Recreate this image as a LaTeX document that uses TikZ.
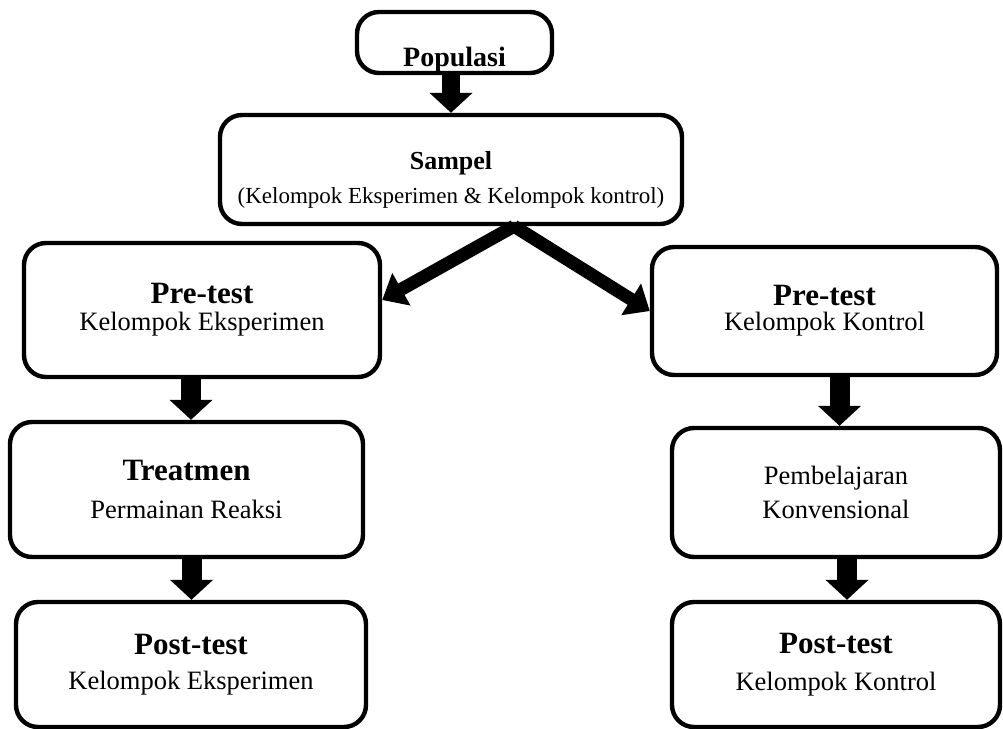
\documentclass[tikz,border=0pt]{standalone}
\usepackage{fontspec}
\setmainfont{Liberation Serif}
\usetikzlibrary{arrows.meta}

\begin{document}
\begin{tikzpicture}[x=0.5pt,y=-0.5pt,
        kotak/.style={draw, line width=2.2pt, rounded corners=11pt, align=center,
                inner sep=2pt, font=\fontsize{13.25}{15}\selectfont},
        panah/.style={line width=10pt, -{Triangle[width=21pt,length=10pt]}},
        panahmiring/.style={line width=6.5pt, -{Triangle[width=18pt,length=11pt]}}]

        % ===============================
        % Ukuran halaman (piksel acuan)
        % ===============================
        \useasboundingbox (0,0) rectangle (1003,729);

        % Judul tebal di dalam kotak
        \providecommand{\Judul}[1]{%
            {\fontsize{15.5}{15}\selectfont\bfseries #1}%
        }

        % ===============================
        % Populasi dan sampel
        % ===============================
        \node[kotak, minimum width=97.5pt, minimum height=30.5pt, inner sep=0pt,
            text height=24pt, text depth=0pt] (pop) at (454.5,42.5)
            {\fontsize{14}{15}\selectfont\bfseries Populasi};
        \node[kotak, minimum width=231pt, minimum height=54.5pt,
            font=\fontsize{11.5}{15}\selectfont] (samp) at (451,169.5)
            {\rule{0pt}{19.5pt}{\fontsize{13}{15}\selectfont\bfseries Sampel}\\[2pt]
             (Kelompok Eksperimen \& Kelompok kontrol)};

        % ===============================
        % Kelompok eksperimen (kiri)
        % ===============================
        \node[kotak, minimum width=178pt, minimum height=67pt] (preE) at (202,310)
            {\Judul{Pre-test}\\[-1.5pt] Kelompok Eksperimen};
        \node[kotak, minimum width=176.5pt, minimum height=67.5pt] (treat) at (186.5,489.5)
            {\Judul{Treatmen}\\[4pt] Permainan Reaksi};
        \node[kotak, minimum width=175pt, minimum height=62.5pt] (postE) at (191,664.5)
            {\Judul{Post-test}\\[2.5pt] Kelompok Eksperimen};

        % ===============================
        % Kelompok kontrol (kanan)
        % ===============================
        \node[kotak, minimum width=172.5pt, minimum height=64pt] (preK) at (824.5,311)
            {\Judul{Pre-test}\\[-2.5pt] Kelompok Kontrol};
        \node[kotak, minimum width=164pt, minimum height=64.5pt] (konv) at (836,492.5)
            {Pembelajaran\\[2pt] Konvensional};
        \node[kotak, minimum width=164pt, minimum height=62.5pt] (postK) at (836,664.5)
            {\Judul{Post-test}\\[3.5pt] Kelompok Kontrol};

        % ===============================
        % Panah alur
        % ===============================
        \draw[panah, line width=9pt] (pop.south -| samp.north) -- (samp.north);

        \coordinate (pisah) at ([xshift=31.5pt]samp.south);
        \draw[panahmiring] (pisah) -- ([yshift=5pt]preE.east);
        \draw[panahmiring] (pisah) -- (preK.west);

        \draw[panah] ([xshift=-5.5pt]preE.south) -- ([xshift=-5.5pt]preE.south |- treat.north);
        \draw[panah] ([xshift=2.5pt]treat.south) -- ([xshift=2.5pt]treat.south |- postE.north);
        \draw[panah] ([xshift=7.5pt]preK.south) -- ([xshift=7.5pt]preK.south |- konv.north);
        \draw[panah] ([xshift=5.5pt]konv.south) -- ([xshift=5.5pt]konv.south |- postK.north);

    \end{tikzpicture}
\end{document}
